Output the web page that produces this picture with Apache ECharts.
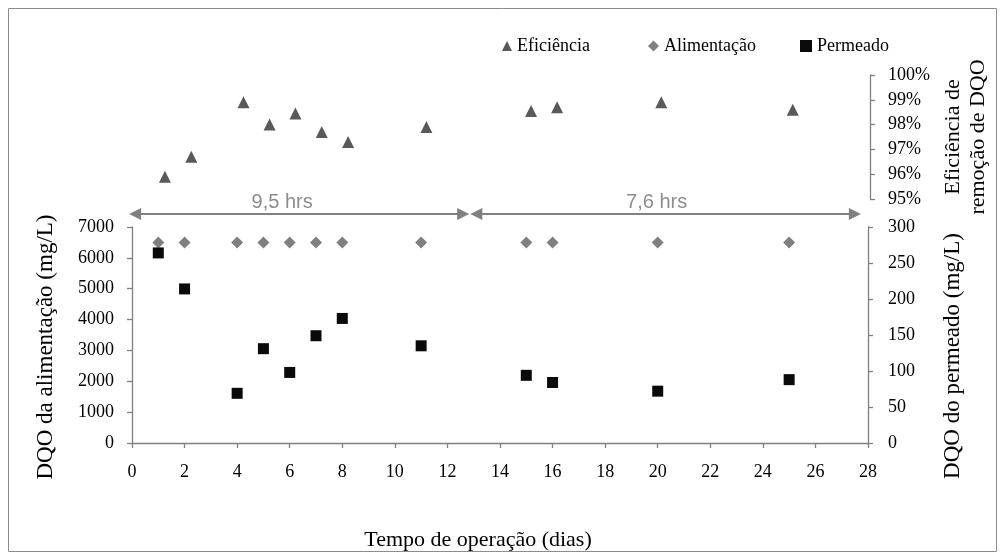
<!DOCTYPE html>
<html>
<head>
<meta charset="utf-8">
<script src="https://cdn.jsdelivr.net/npm/echarts@6/dist/echarts.min.js"></script>
<style>
html,body{margin:0;padding:0;background:#fff;}
#chart{width:1000px;height:553px;}
</style>
</head>
<body>
<div id="chart"></div>
<script>
// ---- data ----
var days = [1, 2, 4, 5, 6, 7, 8, 11, 15, 16, 20, 25];
var effDays = [1.25, 2.25, 4.23, 5.22, 6.2, 7.2, 8.2, 11.17, 15.14, 16.13, 20.08, 25.07];
var efficiency = [95.9, 96.7, 98.9, 98.0, 98.45, 97.7, 97.3, 97.9, 98.55, 98.7, 98.9, 98.6];
var feed = [6500, 6500, 6500, 6500, 6500, 6500, 6500, 6500, 6500, 6500, 6500, 6500];
var permeate = [264, 214, 69, 131, 98, 149, 173, 135, 94, 84, 72, 88];
var periods = [
  { label: '9,5 hrs', start: 0.12, end: 12.6 },
  { label: '7,6 hrs', start: 13.1, end: 27.5 }
];
var legendNames = ['Eficiência', 'Alimentação', 'Permeado'];

// ---- build ----
var serif = 'Liberation Serif';
var gray = '#808080';
function zip(xs, ys) { return xs.map(function (x, i) { return [x, ys[i]]; }); }
function plain(v) { return String(v); }

var axisLineStyle = { show: true, onZero: false, lineStyle: { color: gray, width: 1.3 } };
var tickStyle = { show: true, inside: false, length: 5, lineStyle: { color: gray, width: 1.3 } };
var tickFont = { fontFamily: serif, fontSize: 18, color: '#000' };

var chart = echarts.init(document.getElementById('chart'), null, { renderer: 'canvas' });
var option = {
  animation: false,
  backgroundColor: '#fff',
  textStyle: { fontFamily: serif },
  graphic: [{
    type: 'rect', left: 6, top: 6, silent: true,
    shape: { width: 988, height: 543 },
    style: { fill: 'none', stroke: '#8c8c8c', lineWidth: 1 }
  }],
  legend: [
    { data: [legendNames[0]], left: 497, top: 32, itemWidth: 10, itemHeight: 10,
      textStyle: { fontFamily: serif, fontSize: 18, color: '#000' } },
    { data: [legendNames[1]], left: 643, top: 32, itemWidth: 11, itemHeight: 11,
      textStyle: { fontFamily: serif, fontSize: 18, color: '#000' } },
    { data: [legendNames[2]], left: 795, top: 32, itemWidth: 12, itemHeight: 12,
      textStyle: { fontFamily: serif, fontSize: 18, color: '#000' } }
  ],
  grid: [
    { left: 132, width: 738, top: 75, height: 124 },
    { left: 132, width: 736, top: 227, height: 216 },
    { left: 132, width: 736, top: 200, height: 28 }
  ],
  xAxis: [
    { gridIndex: 0, type: 'value', min: 0, max: 28, show: false },
    { gridIndex: 1, type: 'value', min: 0, max: 28, interval: 2,
      axisLine: axisLineStyle, axisTick: tickStyle, splitLine: { show: false },
      axisLabel: Object.assign({ margin: 20, formatter: plain }, tickFont),
      name: 'Tempo de operação (dias)', nameLocation: 'middle', nameGap: 86,
      nameTextStyle: { fontFamily: serif, fontSize: 22, color: '#000', padding: [0, 44, 0, 0] } },
    { gridIndex: 2, type: 'value', min: 0, max: 28, show: false }
  ],
  yAxis: [
    { gridIndex: 0, type: 'value', position: 'right', min: 95, max: 100, interval: 1,
      axisLine: axisLineStyle, axisTick: tickStyle, splitLine: { show: false },
      axisLabel: Object.assign({ margin: 18, formatter: '{value}%' }, tickFont),
      name: 'Eficiência de\nremoção de DQO', nameLocation: 'middle', nameGap: 68, nameRotate: 90,
      nameTextStyle: { fontFamily: serif, fontSize: 22, color: '#000', lineHeight: 25 } },
    { gridIndex: 1, type: 'value', position: 'left', min: 0, max: 7000, interval: 1000,
      axisLine: axisLineStyle, axisTick: tickStyle, splitLine: { show: false },
      axisLabel: Object.assign({ margin: 18, formatter: plain }, tickFont),
      name: 'DQO da alimentação (mg/L)', nameLocation: 'middle', nameGap: 75, nameRotate: 90,
      nameTextStyle: { fontFamily: serif, fontSize: 23, color: '#000', padding: [0, 24, 0, 0] } },
    { gridIndex: 1, type: 'value', position: 'right', min: 0, max: 300, interval: 50,
      axisLine: axisLineStyle, axisTick: tickStyle, splitLine: { show: false },
      axisLabel: Object.assign({ margin: 20, formatter: plain }, tickFont),
      name: 'DQO do permeado (mg/L)', nameLocation: 'middle', nameGap: 73, nameRotate: 90,
      nameTextStyle: { fontFamily: serif, fontSize: 23, color: '#000', padding: [0, 42, 0, 0] } },
    { gridIndex: 2, type: 'value', min: 0, max: 1, show: false }
  ],
  series: [
    { name: legendNames[0], type: 'scatter', xAxisIndex: 0, yAxisIndex: 0,
      symbol: 'triangle', symbolSize: 12, itemStyle: { color: '#595959', opacity: 1 },
      data: zip(effDays, efficiency) },
    { name: legendNames[1], type: 'scatter', xAxisIndex: 1, yAxisIndex: 1,
      symbol: 'diamond', symbolSize: 12, itemStyle: { color: '#808080', opacity: 1 },
      data: zip(days, feed) },
    { name: legendNames[2], type: 'scatter', xAxisIndex: 1, yAxisIndex: 2,
      symbol: 'rect', symbolSize: 11, itemStyle: { color: '#0a0a0a', opacity: 1 },
      data: zip(days, permeate) },
    { name: 'periods', type: 'line', xAxisIndex: 2, yAxisIndex: 3, data: [],
      markLine: {
        silent: true, animation: false,
        symbol: ['triangle', 'triangle'], symbolSize: [12, 12],
        lineStyle: { color: gray, width: 2, type: 'solid' },
        label: { show: true, position: 'middle', fontFamily: 'Liberation Sans', fontSize: 20,
                 color: '#8c8c8c', distance: 2 },
        data: periods.map(function (p, i) {
          return [
            { coord: [p.start, 0.5], name: p.label, label: { formatter: p.label, offset: [i === 0 ? -17 : -9, 0] } },
            { coord: [p.end, 0.5] }
          ];
        })
      }
    }
  ]
};
chart.setOption(option);
</script>
</body>
</html>
